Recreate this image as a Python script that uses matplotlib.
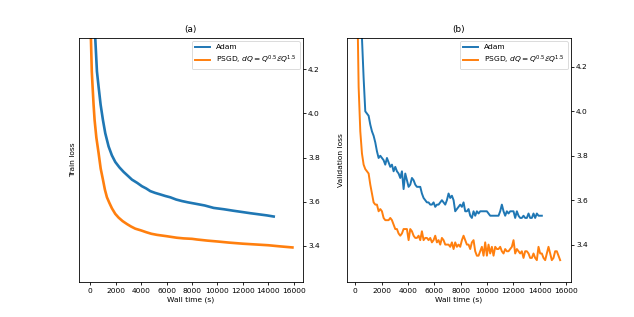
import matplotlib
matplotlib.use("Agg")
import matplotlib.pyplot as plt

# ---------------- data ----------------
adam_train_t = [300, 393, 525, 656, 813, 997, 1180, 1443, 1700, 1967, 2300, 2623, 3000,
                3279, 3700, 4066, 4400, 4721, 5100, 5508, 5900, 6295, 6750, 7213, 7700,
                8262, 9000, 9705, 10500, 11279, 12000, 12590, 13250, 13902, 14426]
adam_train = [4.60, 4.34, 4.19, 4.12, 4.04, 3.97, 3.91, 3.85, 3.81, 3.78, 3.755, 3.735, 3.715,
              3.70, 3.685, 3.67, 3.66, 3.648, 3.64, 3.633, 3.626, 3.62, 3.61, 3.603, 3.597,
              3.591, 3.583, 3.572, 3.566, 3.559, 3.553, 3.548, 3.543, 3.538, 3.533]

psgd_train_t = [30, 52, 120, 184, 260, 341, 480, 656, 820, 997, 1150, 1312, 1500, 1705,
                1967, 2230, 2550, 2885, 3200, 3541, 4000, 4400, 4800, 5246, 6000, 6800,
                7344, 8000, 8394, 9200, 10000, 10900, 12000, 12850, 14000, 14900, 15900]
psgd_train = [4.60, 4.34, 4.19, 4.12, 4.04, 3.97, 3.89, 3.82, 3.75, 3.70, 3.655, 3.62, 3.595,
              3.57, 3.545, 3.528, 3.512, 3.499, 3.488, 3.478, 3.47, 3.462, 3.455, 3.45, 3.444,
              3.437, 3.434, 3.432, 3.429, 3.424, 3.42, 3.415, 3.41, 3.407, 3.403, 3.398, 3.393]

val_time = [0, 126, 253, 379, 506, 632, 758, 885, 1011, 1138, 1264, 1390, 1517, 1643, 1770,
            1896, 2022, 2149, 2275, 2402, 2528, 2654, 2781, 2907, 3034, 3160, 3286, 3413,
            3539, 3666, 3792, 3918, 4045, 4171, 4298, 4424, 4550, 4677, 4803, 4930, 5056,
            5182, 5309, 5435, 5562, 5688, 5814, 5941, 6067, 6194, 6320, 6446, 6573, 6699,
            6826, 6952, 7078, 7205, 7331, 7458, 7584, 7710, 7837, 7963, 8090, 8216, 8342,
            8469, 8595, 8722, 8848, 8974, 9101, 9227, 9354, 9480, 9606, 9733, 9859, 9986,
            10112, 10238, 10365, 10491, 10618, 10744, 10870, 10997, 11123, 11250, 11376,
            11502, 11629, 11755, 11882, 12008, 12134, 12261, 12387, 12514, 12640, 12766,
            12893, 13019, 13146, 13272, 13398, 13525, 13651, 13778, 13904, 14030, 14157,
            14283, 14410, 14536, 14662, 14789, 14915, 15042, 15168, 15294, 15421, 15547]

# Adam validation: evaluations 3 .. 112 of val_time
adam_val = [4.60, 4.33, 4.15, 4.00, 3.99, 3.98, 3.94, 3.91, 3.89, 3.86, 3.82, 3.79, 3.80,
            3.79, 3.78, 3.76, 3.79, 3.77, 3.75, 3.76, 3.73, 3.75, 3.73, 3.72, 3.70, 3.73,
            3.65, 3.72, 3.69, 3.66, 3.67, 3.70, 3.69, 3.67, 3.66, 3.66, 3.66, 3.63, 3.61,
            3.60, 3.59, 3.59, 3.58, 3.58, 3.59, 3.57, 3.58, 3.58, 3.59, 3.60, 3.59, 3.58,
            3.60, 3.63, 3.61, 3.62, 3.60, 3.55, 3.56, 3.57, 3.58, 3.57, 3.59, 3.55, 3.55,
            3.56, 3.53, 3.52, 3.55, 3.53, 3.55, 3.54, 3.55, 3.55, 3.55, 3.55, 3.55, 3.54,
            3.53, 3.53, 3.53, 3.53, 3.53, 3.53, 3.55, 3.58, 3.55, 3.53, 3.55, 3.54, 3.55,
            3.55, 3.55, 3.52, 3.55, 3.53, 3.52, 3.52, 3.53, 3.52, 3.52, 3.54, 3.52, 3.52,
            3.54, 3.52, 3.54, 3.53, 3.53, 3.53]
adam_val_first = 3

# PSGD validation: evaluations 1 .. 123 of val_time
psgd_val = [4.60, 4.11, 3.91, 3.81, 3.76, 3.74, 3.73, 3.72, 3.67, 3.63, 3.59, 3.58, 3.58,
            3.55, 3.56, 3.55, 3.52, 3.51, 3.51, 3.51, 3.52, 3.51, 3.49, 3.47, 3.47, 3.45,
            3.44, 3.45, 3.47, 3.47, 3.47, 3.42, 3.47, 3.46, 3.44, 3.43, 3.43, 3.44, 3.42,
            3.46, 3.42, 3.43, 3.43, 3.42, 3.43, 3.41, 3.42, 3.44, 3.41, 3.42, 3.40, 3.43,
            3.42, 3.40, 3.40, 3.40, 3.39, 3.41, 3.38, 3.41, 3.39, 3.40, 3.39, 3.42, 3.44,
            3.42, 3.40, 3.40, 3.38, 3.41, 3.42, 3.37, 3.35, 3.35, 3.37, 3.39, 3.35, 3.41,
            3.35, 3.40, 3.36, 3.39, 3.35, 3.39, 3.38, 3.38, 3.39, 3.37, 3.36, 3.38, 3.37,
            3.37, 3.38, 3.39, 3.42, 3.36, 3.38, 3.37, 3.36, 3.37, 3.34, 3.37, 3.37, 3.36,
            3.34, 3.34, 3.36, 3.34, 3.33, 3.39, 3.36, 3.36, 3.34, 3.33, 3.36, 3.39, 3.36,
            3.33, 3.34, 3.37, 3.37, 3.35, 3.33]
psgd_val_first = 1

labels = ["Adam", r"PSGD, $dQ = Q^{0.5}\mathcal{E}Q^{1.5}$"]
panel_titles = ["(a)", "(b)"]
ylabels = ["Train loss", "Validation loss"]
xlabel = "Wall time (s)"
xticks = [0, 2000, 4000, 6000, 8000, 10000, 12000, 14000, 16000]
yticks = [3.4, 3.6, 3.8, 4.0, 4.2]

# ---------------- style ----------------
plt.rcParams.update({
    "font.size": 5.4,
    "axes.titlesize": 6.4,
    "axes.titlepad": 4.5,
    "axes.linewidth": 0.6,
    "axes.labelpad": 2.2,
    "xtick.major.size": 2.2,
    "ytick.major.size": 2.2,
    "xtick.major.width": 0.6,
    "ytick.major.width": 0.6,
    "xtick.major.pad": 1.8,
    "ytick.major.pad": 1.8,
    "patch.linewidth": 0.6,
})

blue = "#1f77b4"
orange = "#ff7f0e"

fig, axes = plt.subplots(1, 2, figsize=(6.34, 3.17), dpi=100)

ax = axes[0]
ax.plot(adam_train_t, adam_train, color=blue, lw=1.9, label=labels[0])
ax.plot(psgd_train_t, psgd_train, color=orange, lw=1.9, label=labels[1])
ax.set_xlim(-866, 16700)
ax.set_ylim(3.236, 4.341)

ax = axes[1]
ax.plot(val_time[adam_val_first:adam_val_first + len(adam_val)], adam_val,
        color=blue, lw=1.4, label=labels[0])
ax.plot(val_time[psgd_val_first:psgd_val_first + len(psgd_val)], psgd_val,
        color=orange, lw=1.4, label=labels[1])
ax.set_xlim(-610, 16340)
ax.set_ylim(3.231, 4.33)

for ax, title, yl in zip(axes, panel_titles, ylabels):
    ax.set_title(title)
    ax.set_ylabel(yl)
    ax.set_xlabel(xlabel)
    ax.set_xticks(xticks)
    ax.set_yticks(yticks)
    ax.yaxis.tick_right()
    ax.yaxis.set_label_position("left")
    leg = ax.legend(loc="upper right", borderaxespad=0.4)
    for line in leg.get_lines():
        line.set_linewidth(1.4)

fig.savefig("out.png", dpi=100)
